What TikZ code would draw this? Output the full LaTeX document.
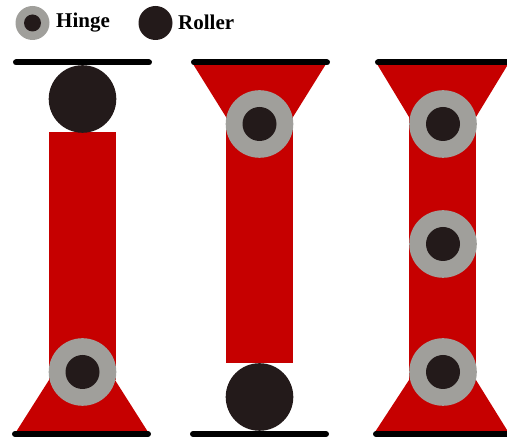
\documentclass[tikz,border=0pt]{standalone}
\usepackage{fontspec}
\setmainfont{Liberation Serif}
\usepackage{xcolor}
\definecolor{LinkRed}{RGB}{198,0,0}
\definecolor{RingGray}{RGB}{160,159,155}
\definecolor{PinBlack}{RGB}{35,26,26}
\tikzset{
	link/.style={fill=LinkRed},
	ground/.style={line width=6pt, line cap=round, black},
	ring/.style={fill=RingGray},
	pin/.style={fill=PinBlack},
	legendtext/.style={font=\bfseries\fontsize{21}{21}\selectfont, anchor=base west, inner sep=0pt}
}
\begin{document}
\begin{tikzpicture}[x=1pt, y=-1pt]
	\useasboundingbox (0,0) rectangle (507,438);
	% hinge and roller positions
	\coordinate (KeyH) at (32.5,23);
	\coordinate (KeyR) at (155.5,23);
	\coordinate (R1) at (82.5,99);
	\coordinate (H1) at (82.5,372);
	\coordinate (H2) at (259.5,124);
	\coordinate (R2) at (259.5,397);
	\coordinate (H3) at (443,124);
	\coordinate (H4) at (443,244);
	\coordinate (H5) at (443,372);
	% left column
	\fill[link] (49,132.5) rectangle (116,380);
	\fill[link] (49,380) -- (16,432) -- (148,432) -- (115,380) -- cycle;
	\draw[ground] (16,62.5) -- (149,62.5);
	\draw[ground] (15,434) -- (148,434);
	% middle column
	\fill[link] (226,117) rectangle (293,363);
	\fill[link] (193,64) -- (226,117) -- (293,117) -- (326,64) -- cycle;
	\draw[ground] (194,62.5) -- (327,62.5);
	\draw[ground] (193,434) -- (326,434);
	% right column
	\fill[link] (409,117) rectangle (476,380);
	\fill[link] (377,64) -- (409,117) -- (476,117) -- (507,66) -- (507,64) -- cycle;
	\fill[link] (409,380) -- (375,432) -- (507,432) -- (507,430) -- (476,380) -- cycle;
	\draw[ground] (378,62.5) -- (510,62.5);
	\draw[ground] (376,434) -- (510,434);
	% rollers
	\fill[pin] (R1) circle (33.8);
	\fill[pin] (R2) circle (33.8);
	\fill[pin] (KeyR) circle (17);
	% hinges
	\fill[ring] (H1) circle (33.8);
	\fill[pin] (H1) circle (17);
	\fill[ring] (H2) circle (33.8);
	\fill[pin] (H2) circle (17);
	\fill[ring] (H3) circle (33.8);
	\fill[pin] (H3) circle (17);
	\fill[ring] (H4) circle (33.8);
	\fill[pin] (H4) circle (17);
	\fill[ring] (H5) circle (33.8);
	\fill[pin] (H5) circle (17);
	\fill[ring] (KeyH) circle (17);
	\fill[pin] (KeyH) circle (8.5);
	% legend
	\node[legendtext] (hingelabel) at (56,28) {Hinge};
	\node[legendtext] (rollerlabel) at (178,30) {Roller};
\end{tikzpicture}
\end{document}
